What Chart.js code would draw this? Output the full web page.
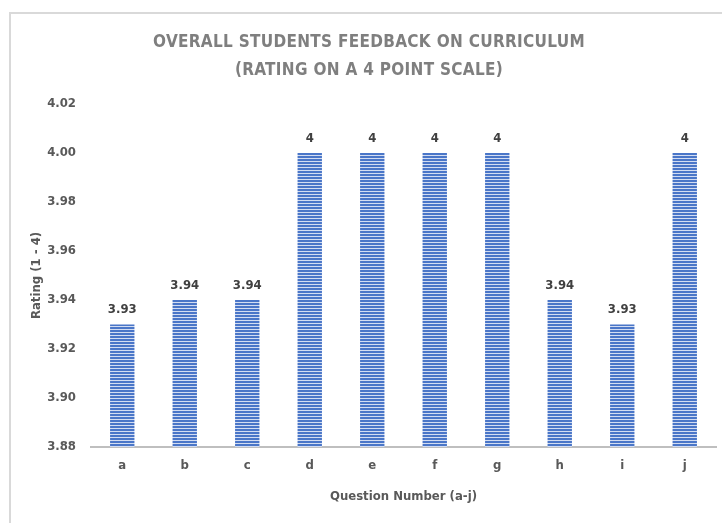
<!DOCTYPE html>
<html>
<head>
<meta charset="utf-8">
<script src="https://cdn.jsdelivr.net/npm/chart.js@4/dist/chart.umd.min.js"></script>
<style>
  html, body { margin: 0; padding: 0; background: #fff; }
  #wrap { position: absolute; left: 0; top: 0; width: 722px; height: 523px; }
</style>
</head>
<body>
<div id="wrap"><canvas id="c" width="722" height="523"></canvas></div>
<script>
const categories = ['a', 'b', 'c', 'd', 'e', 'f', 'g', 'h', 'i', 'j'];
const ratings = [3.93, 3.94, 3.94, 4, 4, 4, 4, 3.94, 3.93, 4];
const titleLines = ['OVERALL STUDENTS FEEDBACK ON CURRICULUM', '(RATING ON A 4 POINT SCALE)'];
const yMin = 3.88, yMax = 4.02, yStep = 0.02;

const FONT = "'Liberation Sans Narrow', 'DejaVu Sans Condensed', 'Arial Narrow', sans-serif";

const ctx0 = document.getElementById('c').getContext('2d');
const pattern = ctx0.createPattern((() => {
  const p = document.createElement('canvas');
  p.width = 4; p.height = 3;
  const g = p.getContext('2d');
  g.fillStyle = '#4a76c8'; g.fillRect(0, 0, 4, 2);
  g.fillStyle = '#d3ddf2'; g.fillRect(0, 2, 4, 1);
  return p;
})(), 'repeat');

const framePlugin = {
  id: 'frame',
  beforeDraw(chart) {
    const c = chart.ctx;
    c.save();
    c.fillStyle = '#ffffff';
    c.fillRect(0, 0, chart.width, chart.height);
    c.strokeStyle = '#d9d9d9';
    c.lineWidth = 2;
    c.beginPath();
    c.moveTo(10, 523); c.lineTo(10, 13); c.lineTo(722, 13);
    c.stroke();
    c.restore();
  },
  afterDraw(chart) {
    const c = chart.ctx;
    c.save();
    c.fillStyle = '#7f7f7f';
    c.font = 'bold 17px ' + FONT;
    c.textAlign = 'center';
    c.textBaseline = 'middle';
    try { c.letterSpacing = '0.3px'; } catch (e) {}
    c.fillText(titleLines[0], 369, 43);
    c.fillText(titleLines[1], 369, 71);
    c.restore();
  }
};

const labelPlugin = {
  id: 'barLabels',
  afterDatasetsDraw(chart) {
    const c = chart.ctx;
    const meta = chart.getDatasetMeta(0);
    c.save();
    c.fillStyle = '#404040';
    c.font = 'bold 13px ' + FONT;
    c.textAlign = 'center';
    c.textBaseline = 'bottom';
    meta.data.forEach((bar, i) => {
      c.fillText(String(ratings[i]), bar.x, bar.y - 8);
    });
    c.restore();
  }
};

new Chart(document.getElementById('c'), {
  type: 'bar',
  data: {
    labels: categories,
    datasets: [{
      data: ratings,
      backgroundColor: pattern,
      borderWidth: 0,
      barPercentage: 0.78,
      categoryPercentage: 0.5
    }]
  },
  options: {
    responsive: false,
    animation: false,
    devicePixelRatio: 1,
    layout: { padding: { left: 20, right: 6, top: 104, bottom: 0 } },
    plugins: {
      legend: { display: false },
      tooltip: { enabled: false },
      title: { display: false }
    },
    scales: {
      x: {
        grid: { display: false, drawTicks: false },
        border: { display: true, color: '#bfbfbf', width: 2 },
        ticks: { color: '#595959', font: { family: FONT, size: 13, weight: 'bold' }, padding: 11 },
        title: { display: true, text: 'Question Number (a-j)', color: '#595959',
                 font: { family: FONT, size: 13, weight: 'bold' }, padding: { top: 0, bottom: 19 } },
        afterFit(s) { s.height = 76; }
      },
      y: {
        min: yMin, max: yMax,
        grid: { display: false, drawTicks: false },
        border: { display: false },
        ticks: { stepSize: yStep, color: '#595959', padding: 15,
                 font: { family: FONT, size: 13, weight: 'bold' },
                 callback: v => Number(v).toFixed(2) },
        title: { display: true, text: 'Rating (1 - 4)', color: '#595959',
                 font: { family: FONT, size: 13, weight: 'bold' }, padding: { top: 9, bottom: 0 } },
        afterFit(s) { s.width = 71; }
      }
    }
  },
  plugins: [framePlugin, labelPlugin]
});
</script>
</body>
</html>
